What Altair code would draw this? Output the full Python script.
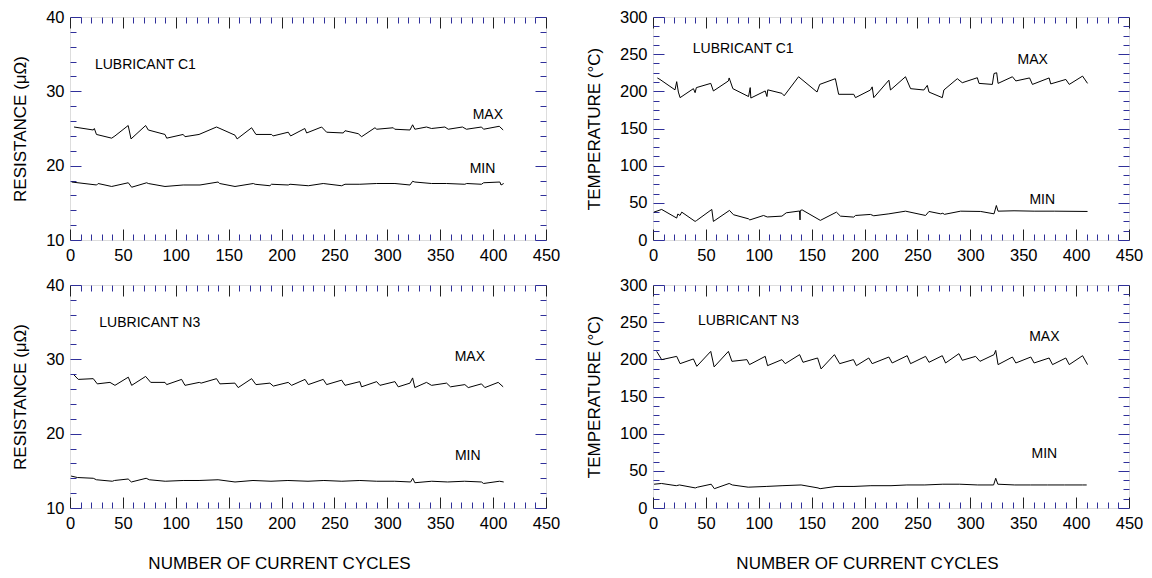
import altair as alt
import pandas as pd

FONT = "Liberation Sans"
BLUE = "#30309a"
W, H = 476, 223

# ---------------- data ----------------
# Lubricant C1 - resistance
c1_rmax_x = [3.8, 22, 23, 25, 39.4, 42.5, 55, 57.7, 71.5, 74, 89.8, 91.4, 107, 108.7, 122, 138.5, 141.8,
             156, 158, 171.7, 175.8, 190.6, 192, 206.3, 208.6, 222, 223.7, 237.9, 242.6, 258.3, 260, 272.5,
             275.7, 288.3, 290, 305.6, 307, 321.4, 323.9, 326, 337, 341.8, 354.4, 357.6, 371, 374.8, 389,
             391, 405.8, 409.5]
c1_rmax_v = [25.2, 24.8, 25.0, 24.2, 23.7, 24.0, 25.4, 23.6, 25.4, 24.8, 24.2, 23.7, 24.2, 23.9, 24.2, 25.2, 25.0,
             24.1, 23.6, 25.1, 24.2, 24.2, 24.0, 24.5, 24.0, 25.0, 24.4, 25.2, 24.5, 24.4, 24.7, 24.3,
             23.9, 25.1, 24.9, 25.1, 24.9, 24.8, 25.5, 24.9, 25.2, 25.0, 25.2, 24.9, 25.2, 24.9, 25.2,
             24.9, 25.3, 24.8]
c1_rmin_x = [1.6, 25.2, 26.6, 39.4, 42.5, 55.1, 58.3, 72.5, 74, 89.8, 107, 122.9, 140, 141.5, 156, 173.3,
             175, 189, 190.5, 206.3, 208, 225.3, 239.4, 256.8, 260, 274, 289.9, 307.2, 321.4, 323.9, 326,
             341.8, 356, 373.3, 375, 389, 391, 406.4, 407.5, 410]
c1_rmin_v = [17.8, 17.4, 17.6, 17.2, 17.3, 17.7, 17.1, 17.7, 17.6, 17.2, 17.4, 17.4, 17.8, 17.6, 17.2, 17.6,
             17.5, 17.3, 17.5, 17.4, 17.5, 17.3, 17.6, 17.3, 17.5, 17.5, 17.6, 17.6, 17.4, 17.9, 17.8,
             17.6, 17.6, 17.5, 17.6, 17.5, 17.7, 17.8, 17.4, 17.6]

# Lubricant C1 - temperature
c1_tmax_x = [4.1, 6.6, 20.8, 22.4, 24, 25.6, 38.2, 39.8, 41, 54.6, 57.1, 71.3, 72, 75.5, 90.3, 91.9, 92.5,
             106.1, 107.7, 108.5, 121.9, 124, 137.6, 155.1, 157.6, 172.4, 175.5, 189.8, 191.4, 205.6, 207.2,
             208.7, 223, 224.5, 238.7, 243.5, 256.1, 259.3, 260.9, 273.5, 275, 287.7, 292.4, 306.6, 308.2,
             320.8, 322.4, 324.9, 326.2, 339.8, 343, 356, 358.7, 374.5, 376, 390.3, 393.5, 406.1, 410.8]
c1_tmax_v = [218, 216, 202, 213, 199, 191.5, 203.6, 198.2, 205, 210.7, 200.5, 214, 218, 203.6, 193, 205, 191,
             200.5, 193, 202, 197.3, 194, 219.6, 199.1, 209.3, 217, 196, 196, 191.5, 201.8, 206,
             191.5, 215, 201.8, 219.6, 203.6, 201.8, 208, 199, 191.5, 201.8, 217, 211.6, 218.3, 210.7,
             209.3, 224, 225, 210.7, 219.6, 214, 218, 209.3, 218, 210, 216, 209.3, 220.5, 210.7]
c1_tmin_x = [0.9, 8.2, 22.4, 23.5, 25.5, 27.2, 39.8, 41, 55.6, 57.1, 72.3, 76.1, 90.3, 91.5, 104.5, 108,
             121.9, 126, 138.5, 139, 139.3, 141, 158.2, 173.4, 177.2, 189.8, 191.4, 205.6, 208.7, 223,
             238.7, 257.7, 260.9, 272, 274, 275.5, 290.8, 309.8, 322.4, 324.6, 326.2, 341.3, 360.3,
             379.3, 410.8]
c1_tmin_v = [37.5, 41.1, 29.5, 35, 33, 37.5, 25, 26, 41.1, 25, 39.8, 34, 28.5, 27, 33, 31,
             32.1, 36.6, 39, 27, 39.8, 40.5, 26.4, 37.5, 32.1, 30.8, 33, 34.4, 32.6, 35.2,
             38.8, 33, 38.4, 35.2, 36, 34.5, 38.8, 38.4, 35.2, 46.4, 38.8, 39.3, 38.8,
             38.8, 38.4]

# Lubricant N3 - resistance
n3_rmax_x = [3.8, 7.8, 22, 25.8, 37.8, 42.5, 55.1, 58.3, 71.5, 76.3, 89.8, 91.4, 105.5, 108.7, 122.2, 124,
             138.5, 141.7, 155.9, 159, 171.7, 175.8, 189, 192.2, 206.3, 209.5, 222.2, 225.3, 239.4, 242.6,
             256.8, 260, 274, 275.6, 289.9, 293, 307.2, 310.3, 321.4, 323.9, 326, 337, 341.8, 356, 359.7,
             373.3, 376.5, 389, 392.2, 404.8, 409.5]
n3_rmax_v = [27.9, 27.3, 27.4, 26.7, 26.9, 26.5, 27.6, 26.5, 27.7, 26.9, 26.9, 26.6, 27.3, 26.5, 26.9, 26.8,
             27.4, 26.7, 26.8, 26.2, 27.4, 26.6, 26.8, 26.4, 26.9, 26.5, 27.3, 26.6, 27.3, 26.6,
             27.2, 26.5, 27.0, 26.3, 27.0, 26.5, 27.0, 26.3, 26.8, 27.5, 26.2, 26.9, 26.5, 26.8, 26.3,
             26.6, 26.2, 26.7, 26.2, 26.9, 26.3]
n3_rmin_x = [1, 7, 22, 25, 40, 42, 55, 58, 72, 75, 90, 107, 122, 140, 156, 173, 190, 206, 225, 240, 257,
             274, 290, 307, 322, 324, 326, 342, 357, 373, 389, 391, 406, 410]
n3_rmin_v = [14.3, 14.1, 14.0, 13.8, 13.6, 13.7, 13.9, 13.5, 14.0, 13.8, 13.6, 13.7, 13.7, 13.8, 13.5, 13.7,
             13.6, 13.7, 13.6, 13.7, 13.6, 13.7, 13.6, 13.6, 13.5, 14.0, 13.4, 13.6, 13.5, 13.6, 13.5,
             13.3, 13.6, 13.5]

# Lubricant N3 - temperature
n3_tmax_x = [3.5, 8.2, 22.4, 25.6, 38.2, 41.4, 54.6, 57.8, 71.3, 74.6, 88.8, 91.2, 106.1, 108.3, 121.9, 125,
             138.6, 141.8, 155.6, 158.9, 171.5, 176.5, 189.5, 192.3, 204, 207.2, 223, 226.1, 240.3, 243.5,
             257.7, 260.9, 273.5, 276.6, 289.2, 292.4, 305, 309.1, 322.4, 324, 326.2, 339.8, 343, 357.2,
             360.3, 374.5, 377.7, 390.3, 393.5, 406.1, 410.8]
n3_tmax_v = [210.7, 199.6, 204, 194.2, 200.5, 190.6, 210.7, 189.8, 210.7, 197.3, 199.6, 192.9, 204, 191.5,
             199.6, 194.2, 206.3, 196, 201.8, 187.1, 206.3, 194.2, 199.6, 191.5, 201.8, 194.2, 203.1, 195.1,
             204.9, 194.2, 204, 196, 204.9, 195.1, 207.6, 198.7, 204, 197.3, 206.3, 212, 192.9, 203.1, 195.1,
             203.1, 195.1, 201.8, 192.9, 201.8, 192.9, 204.9, 192.9]
n3_tmin_x = [1, 8, 22, 25, 40, 42, 55, 58, 72, 75, 90, 107, 122, 140, 156, 158, 173, 190, 206, 225, 240,
             257, 274, 290, 307, 322, 324, 326, 342, 357, 373, 389, 406, 410]
n3_tmin_v = [32, 33, 30, 31, 27, 28, 32, 26, 33, 31, 28, 29, 30, 31, 27, 26, 29, 29, 30, 30, 31,
             31, 32, 32, 31, 31, 40, 32, 31, 31, 31, 31, 31, 31]

x_major = [0, 50, 100, 150, 200, 250, 300, 350, 400, 450]
x_minor = list(range(0, 451, 10))
r_major = [10, 20, 30, 40]
r_minor = list(range(10, 41, 2))
t_major = [0, 50, 100, 150, 200, 250, 300]
t_minor = [i * 12.5 for i in range(25)]

notes_c1_r = [("LUBRICANT C1", 23.6, 33.6, "left"), ("MAX", 395, 26.8, "center"), ("MIN", 390, 19.6, "center")]
notes_c1_t = [("LUBRICANT C1", 37.6, 257, "left"), ("MAX", 359, 242, "center"), ("MIN", 368, 54, "center")]
notes_n3_r = [("LUBRICANT N3", 27.7, 34.9, "left"), ("MAX", 378, 30.3, "center"), ("MIN", 376, 17.0, "center")]
notes_n3_t = [("LUBRICANT N3", 42.6, 252, "left"), ("MAX", 370, 230, "center"), ("MIN", 370, 72, "center")]


def make_df(pairs):
    rows = []
    for name, xs, vs in pairs:
        for x, v in zip(xs, vs):
            rows.append({"series": name, "cycle": x, "value": v})
    return pd.DataFrame(rows)


def panel(pairs, notes, ydom, ymaj, ymin, ytitle, xtitle, ymod, title_x):
    df = make_df(pairs)
    xs = alt.Scale(domain=[0, 450], nice=False, zero=False)
    ys = alt.Scale(domain=ydom, nice=False, zero=False)
    xsize = {"condition": {"test": "datum.value % 50 === 0", "value": 11}, "value": 6}
    xcolor = {"condition": {"test": "datum.value % 50 === 0", "value": "#222222"}, "value": BLUE}
    ysize = {"condition": {"test": f"datum.value % {ymod} === 0", "value": 11}, "value": 6}
    base = alt.Chart(df)

    lab_kw = dict(labelFont=FONT, labelFontSize=16.5, labelColor="black", ticks=False, tickSize=0,
                  domain=False, grid=False, labelFlush=False, labelOverlap=False)
    x_kw = dict(orient="bottom", values=x_major, labelPadding=7)
    if xtitle:
        x_kw.update(title=xtitle, titleFont=FONT, titleFontSize=17, titleFontWeight="normal",
                    titleColor="black", titlePadding=24, titleX=title_x)
    else:
        x_kw.update(title=None)
    x_lab = alt.Axis(**x_kw, **lab_kw)
    y_lab = alt.Axis(orient="left", values=ymaj, labelPadding=6, title=ytitle, titleFont=FONT,
                     titleFontSize=17, titleFontWeight="normal", titleColor="black", titlePadding=16,
                     **lab_kw)
    main = base.mark_line(color="black", strokeWidth=1).encode(
        x=alt.X("cycle:Q", scale=xs, axis=x_lab),
        y=alt.Y("value:Q", scale=ys, axis=y_lab),
        detail="series:N",
    )

    tk = dict(labels=False, domain=False, grid=False, title=None, ticks=True, tickWidth=1)
    ghost1 = base.mark_line(strokeOpacity=0).encode(
        x=alt.X("cycle:Q", scale=xs, axis=alt.Axis(orient="top", offset=-H, values=x_minor,
                                                    tickSize=xsize, tickColor=xcolor, **tk)),
        y=alt.Y("value:Q", scale=ys, axis=alt.Axis(orient="right", offset=-W, values=ymin,
                                                    tickSize=ysize, tickColor=BLUE, **tk)),
        detail="series:N",
    )
    ghost2 = base.mark_line(strokeOpacity=0).encode(
        x=alt.X("cycle:Q", scale=xs, axis=alt.Axis(orient="bottom", offset=-H, values=x_minor,
                                                    tickSize=xsize, tickColor=xcolor, **tk)),
        y=alt.Y("value:Q", scale=ys, axis=alt.Axis(orient="left", offset=-W, values=ymin,
                                                    tickSize=ysize, tickColor=BLUE, **tk)),
        detail="series:N",
    )
    ndf = pd.DataFrame([{"txt": t, "x": x, "y": y, "al": a} for t, x, y, a in notes])
    left_notes = alt.Chart(ndf[ndf.al == "left"]).mark_text(
        font=FONT, fontSize=14, align="left", baseline="middle", color="black"
    ).encode(x=alt.X("x:Q", scale=xs, axis=None), y=alt.Y("y:Q", scale=ys, axis=None), text="txt:N")
    mid_notes = alt.Chart(ndf[ndf.al == "center"]).mark_text(
        font=FONT, fontSize=14, align="center", baseline="middle", color="black"
    ).encode(x=alt.X("x:Q", scale=xs, axis=None), y=alt.Y("y:Q", scale=ys, axis=None), text="txt:N")

    return alt.layer(main, ghost1, ghost2, left_notes, mid_notes).resolve_axis(
        x="independent", y="independent").properties(width=W, height=H)


p1 = panel([("max", c1_rmax_x, c1_rmax_v), ("min", c1_rmin_x, c1_rmin_v)], notes_c1_r,
           [10, 40], r_major, r_minor, "RESISTANCE (\u03bc\u03a9)", None, 10, 0)
p2 = panel([("max", c1_tmax_x, c1_tmax_v), ("min", c1_tmin_x, c1_tmin_v)], notes_c1_t,
           [0, 300], t_major, t_minor, "TEMPERATURE (\u00b0C)", None, 50, 0)
p3 = panel([("max", n3_rmax_x, n3_rmax_v), ("min", n3_rmin_x, n3_rmin_v)], notes_n3_r,
           [10, 40], r_major, r_minor, "RESISTANCE (\u03bc\u03a9)", "NUMBER OF CURRENT CYCLES", 10, 209)
p4 = panel([("max", n3_tmax_x, n3_tmax_v), ("min", n3_tmin_x, n3_tmin_v)], notes_n3_t,
           [0, 300], t_major, t_minor, "TEMPERATURE (\u00b0C)", "NUMBER OF CURRENT CYCLES", 50, 214)

chart = alt.ConcatChart(
    concat=[p1, p2, p3, p4], columns=2, spacing={"row": 45, "column": 107}, bounds="flush"
).properties(padding={"left": 3, "top": 0, "right": 0, "bottom": 0}).configure_view(
    stroke="black", strokeWidth=1
).configure(background="white")

chart.save("out.html", embed_options={"renderer": "svg", "actions": False})
